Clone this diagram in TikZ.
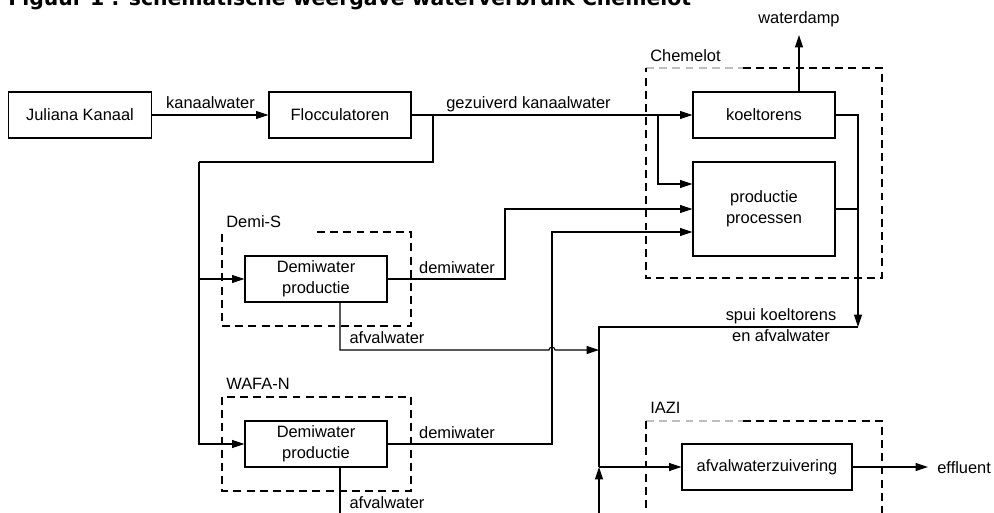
\documentclass[tikz,border=0pt]{standalone}
\usepackage{fontspec}
\setmainfont{Liberation Sans}
\newfontfamily\titlefont{DejaVu Sans}
\usetikzlibrary{arrows.meta, positioning, calc}

\begin{document}
\begin{tikzpicture}[
    x=0.02cm, y=-0.02cm,
    every node/.style={font=\fontsize{9.35}{11.9}\selectfont},
    block/.style={draw, rectangle, minimum width=2.84cm, minimum height=0.92cm, inner sep=0pt, align=center, line width=0.6pt},
    group/.style={draw, dash pattern=on 4.5pt off 3pt, line width=0.6pt},
    lbl/.style={inner sep=0pt},
    flow/.style={line width=0.6pt},
    arr/.style={flow, -{Triangle[length=7pt,width=4.5pt]}}
]
    \useasboundingbox (0,0) rectangle (994,513);
    \clip (0,0) rectangle (994,513);

    % Title (cut off at the top)
    \node[lbl, anchor=base west, font={\titlefont\bfseries\fontsize{11.6}{14}\selectfont}] (title) at (8,6) {Figuur 1 : schematische weergave waterverbruik Chemelot};

    % Blocks
    \node[block, minimum width=2.86cm] (kanaal) at (80,115) {Juliana Kanaal};
    \node[block] (floc) at (340,115) {Flocculatoren};
    \node[block] (koel) at (764,115) {koeltorens};
    \node[block, minimum height=1.88cm] (prod) at (764,209) {productie\\processen};
    \node[block] (demis) at (316,279) {Demiwater\\productie};
    \node[block] (wafa) at (316,444) {Demiwater\\productie};
    \node[block, minimum width=3.4cm] (azi) at (767,467) {afvalwaterzuivering};

    % Site borders
    \draw[group, gray!50] (646,68) -- (743,68);
    \draw[group] (743,68) -- (882,68) -- (882,278) -- (646,278) -- (646,68);
    \draw[group] (317,232) -- (411,232) -- (411,326) -- (222,326) -- (222,232);
    \draw[group] (222,397) rectangle (411,491);
    \draw[group, gray!50] (646,421) -- (743,421);
    \draw[group] (743,421) -- (882,421) -- (882,530);
    \draw[group] (646,421) -- (646,530);

    % Labels
    \node[lbl, anchor=base west] (lchem) at (650,62) {Chemelot};
    \node[lbl, anchor=base west] (ldemis) at (226,228) {Demi-S};
    \node[lbl, anchor=base west] (lwafa) at (226,389.5) {WAFA-N};
    \node[lbl, anchor=base west] (liazi) at (650,413) {IAZI};
    \node[lbl, anchor=base] (lkanaal) at (210.5,109) {kanaalwater};
    \node[lbl, anchor=base] (lgez) at (528.5,109) {gezuiverd kanaalwater};
    \node[lbl, anchor=base] (damp) at (799,24) {waterdamp};
    \node[lbl, anchor=base] (ldemi1) at (457,274) {demiwater};
    \node[lbl, anchor=base] (ldemi2) at (457,438) {demiwater};
    \node[lbl, anchor=base] (lafv1) at (387,343) {afvalwater};
    \node[lbl, anchor=base] (lafv2) at (387,508) {afvalwater};
    \node[lbl, anchor=base, align=center] (lspui) at (781,341) {spui koeltorens\\en afvalwater};
    \node[lbl, anchor=base west] (effl) at (937,473) {effluent};

    % Junctions
    \coordinate (split1) at (433,115);
    \coordinate (feed) at (199,162);
    \coordinate (split2) at (658,115);
    \coordinate (spui) at (858,327);
    \coordinate (junc1) at (599,350);
    \coordinate (junc2) at (599,467);
    \coordinate (cutA) at (340,520);
    \coordinate (cutB) at (599,520);
    \coordinate (effout) at (928,467);
    \coordinate (dampout) at (799,35);

    % Flows
    \draw[arr] (kanaal) -- (floc);
    \draw[arr] (floc) -- (koel);
    \draw[flow] (split1) |- (feed);
    \draw[arr] (feed) |- (wafa);
    \draw[arr] (feed |- demis) -- (demis);
    \draw[arr] (split2) |- ($(prod.west)+(0,-25)$);
    \draw[arr] (demis) -- (505,279) |- (prod);
    \draw[arr] (wafa) -- (552,444) |- ($(prod.west)+(0,23)$);
    \draw[arr] ($(demis.south)+(24,0)$) -- (340,350) -- (549,350) arc[start angle=180, end angle=0, radius=1.7pt] -- (junc1);
    \draw[flow] ($(wafa.south)+(24,0)$) -- (cutA);
    \draw[arr] (cutB) -- (junc2);
    \draw[arr] (koel.north -| damp) -- (dampout);
    \draw[arr] (koel) -| (spui);
    \draw[flow] (prod) -- (prod -| spui);
    \draw[flow] (spui) -| (junc2);
    \draw[arr] (junc2) -- (azi);
    \draw[arr] (azi) -- (effout);
\end{tikzpicture}
\end{document}
